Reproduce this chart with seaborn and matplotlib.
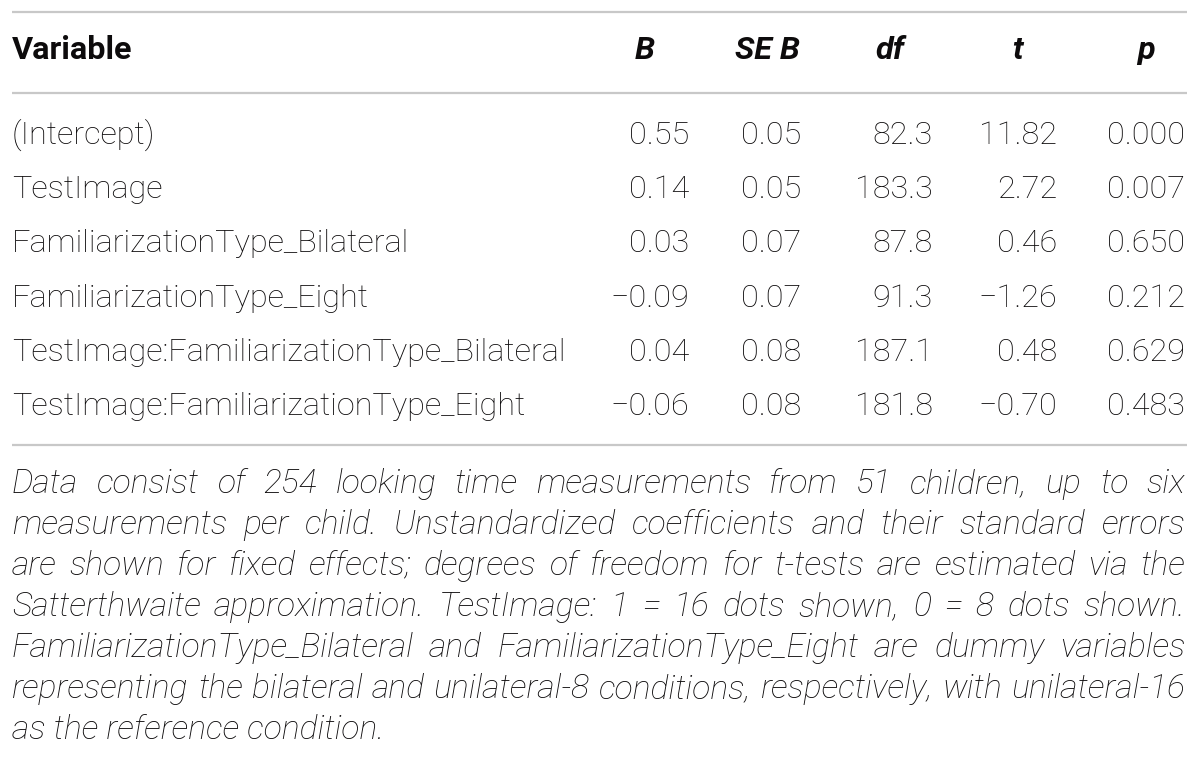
import matplotlib
matplotlib.use("Agg")
import matplotlib.pyplot as plt
import pandas as pd
import seaborn as sns

# -----------------------------
# Table data
# -----------------------------
variables = [
    "(Intercept)",
    "TestImage",
    "FamiliarizationType_Bilateral",
    "FamiliarizationType_Eight",
    "TestImage:FamiliarizationType_Bilateral",
    "TestImage:FamiliarizationType_Eight",
]
coef_b = [0.55, 0.14, 0.03, -0.09, 0.04, -0.06]
se_b = [0.05, 0.05, 0.07, 0.07, 0.08, 0.08]
dof = [82.3, 183.3, 87.8, 91.3, 187.1, 181.8]
t_vals = [11.82, 2.72, 0.46, -1.26, 0.48, -0.70]
p_vals = [0.000, 0.007, 0.650, 0.212, 0.629, 0.483]

headers = ["B", "SE B", "df", "t", "p"]
decimals = [2, 2, 1, 2, 3]

note_lines = [
    "Data consist of 254 looking time measurements from 51 children, up to six",
    "measurements per child. Unstandardized coefficients and their standard errors",
    "are shown for fixed effects; degrees of freedom for t-tests are estimated via the",
    "Satterthwaite approximation. TestImage: 1 = 16 dots shown, 0 = 8 dots shown.",
    "FamiliarizationType_Bilateral and FamiliarizationType_Eight are dummy variables",
    "representing the bilateral and unilateral-8 conditions, respectively, with unilateral-16",
    "as the reference condition.",
]

df = pd.DataFrame({"Variable": variables, "B": coef_b, "SE B": se_b,
                   "df": dof, "t": t_vals, "p": p_vals})

# -----------------------------
# Style
# -----------------------------
sns.set_theme(style="white")
plt.rcParams["font.family"] = ["Roboto", "DejaVu Sans"]
TEXT = "#0d0b0c"
RULE = "#c8c8c8"

fig = plt.figure(figsize=(12, 7.57), dpi=100)
ax = fig.add_axes([0, 0, 1, 1])
ax.set_xlim(0, 1200)
ax.set_ylim(757, 0)
ax.axis("off")
renderer = fig.canvas.get_renderer()


def text_width(s, **kw):
    t = ax.text(0, 0, s, **kw)
    w = t.get_window_extent(renderer).width
    t.remove()
    return w


def fmt(v, d):
    s = f"{abs(v):.{d}f}"
    return "\u2212" + s if v < 0 else s


# font sizes fitted to the reference widths
body_kw = dict(fontweight="light")
fs = 20 * 553 / text_width(variables[4], fontsize=20, **body_kw)
note_kw = dict(fontweight="light", style="italic")
nfs = 20 * 1165 / text_width(note_lines[5], fontsize=20, **note_kw)

left, right = 12, 1187
col_right = [689, 801, 933, 1057, 1185]
col_head = [645, 767, 890, 1017, 1146]

# rules
ax.hlines([12, 93, 445], left, right, color=RULE, lw=1.6)

# header
ax.text(left, 59, "Variable", fontsize=fs, fontweight="bold", color=TEXT)
for h, x in zip(headers, col_head):
    ax.text(x, 59, h, fontsize=fs, fontweight="bold", style="italic",
            color=TEXT, ha="center")

# body rows
for i, row in df.iterrows():
    y = 144 + 54.2 * i
    ax.text(left, y, row["Variable"], fontsize=fs, color=TEXT, **body_kw)
    for col, x, d in zip(headers, col_right, decimals):
        ax.text(x, y, fmt(row[col], d), fontsize=fs, color=TEXT,
                ha="right", **body_kw)

# justified notes
for i, line in enumerate(note_lines):
    y = 493 + 41 * i
    words = line.split(" ")
    if i == len(note_lines) - 1:
        ax.text(left, y, line, fontsize=nfs, color=TEXT, **note_kw)
        continue
    widths = [text_width(w, fontsize=nfs, **note_kw) for w in words]
    gap = (right - 2 - left - sum(widths)) / (len(words) - 1)
    x = left
    for w, wd in zip(words, widths):
        ax.text(x, y, w, fontsize=nfs, color=TEXT, **note_kw)
        x += wd + gap

fig.savefig("out.png", dpi=100)
plt.close(fig)
